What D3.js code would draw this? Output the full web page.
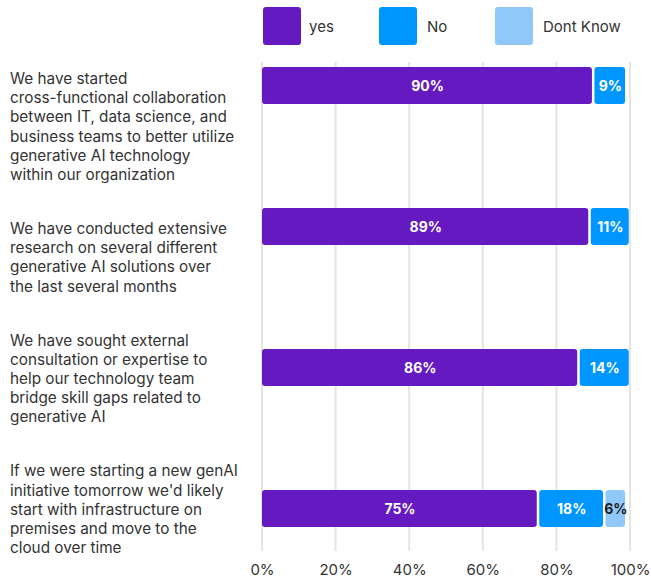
<!DOCTYPE html>
<html>
<head>
<meta charset="utf-8">
<script src="https://cdn.jsdelivr.net/npm/d3@7/dist/d3.min.js"></script>
<style>
  html, body { margin: 0; padding: 0; background: #ffffff; }
  svg { display: block; }
  text { font-family: Inter, "Noto Sans", "DejaVu Sans", sans-serif; }
</style>
</head>
<body>
<svg id="chart" width="651" height="580"></svg>
<script>
// Survey statements, one line per entry as they wrap beside the bars
const categories = [
  ["We have started", "cross-functional collaboration", "between IT, data science, and",
   "business teams to better utilize", "generative AI technology", "within our organization"],
  ["We have conducted extensive", "research on several different",
   "generative AI solutions over", "the last several months"],
  ["We have sought external", "consultation or expertise to", "help our technology team",
   "bridge skill gaps related to", "generative AI"],
  ["If we were starting a new genAI", "initiative tomorrow we'd likely",
   "start with infrastructure on", "premises and move to the", "cloud over time"]
];

const seriesNames = ["yes", "No", "Dont Know"];
const yesValues = [90, 89, 86, 75];
const noValues = [9, 11, 14, 18];
const dontKnowValues = [0, 0, 0, 6];
const tickValues = [0, 20, 40, 60, 80, 100];

const colors = ["#6519C1", "#0096FF", "#90C9F9"];
const labelColors = ["#ffffff", "#ffffff", "#1a1a1a"];

const svg = d3.select("#chart");

const rowKeys = categories.map((c, i) => i);
const table = rowKeys.map(i => ({
  row: i,
  values: [yesValues[i], noValues[i], dontKnowValues[i]]
}));

// Horizontal percentage scale and row bands
const x = d3.scaleLinear().domain([0, 100]).range([262, 630]);
const y = d3.scaleBand().domain(rowKeys).range([67, 527]).paddingInner(0.738).paddingOuter(0);

// Vertical gridlines
svg.append("g")
  .selectAll("line")
  .data(tickValues)
  .join("line")
  .attr("x1", d => x(d)).attr("x2", d => x(d))
  .attr("y1", 62).attr("y2", 551)
  .attr("stroke", "#e4e4e4")
  .attr("stroke-width", 2);

// Bottom axis labels
const axis = d3.axisBottom(x).tickValues(tickValues).tickFormat(d => d + "%").tickSize(0).tickPadding(0);
const axisG = svg.append("g").attr("transform", "translate(0,561)").call(axis);
axisG.select(".domain").remove();
axisG.selectAll("text")
  .attr("dy", null)
  .attr("y", 14)
  .attr("font-size", 15)
  .attr("fill", "#333333")
  .style("font-family", "Inter, 'Noto Sans', sans-serif");

// Stacked segments
const stack = d3.stack().keys([0, 1, 2]).value((d, k) => d.values[k]);
const layers = stack(table);
const gap = 2.5;

const segG = svg.append("g");
layers.forEach((layer, k) => {
  const g = segG.append("g");
  const segs = layer.filter(s => s[1] - s[0] > 0);
  g.selectAll("rect")
    .data(segs)
    .join("rect")
    .attr("x", s => x(s[0]) + (s[0] > 0 ? gap / 2 : 0))
    .attr("y", s => y(s.data.row))
    .attr("width", s => x(s[1]) - x(s[0]) - (s[0] > 0 ? gap : gap / 2))
    .attr("height", y.bandwidth())
    .attr("rx", 3)
    .attr("fill", colors[k]);
  g.selectAll("text")
    .data(segs)
    .join("text")
    .attr("x", s => (x(s[0]) + x(s[1])) / 2 + (s[0] > 0 ? gap / 4 : 0))
    .attr("y", s => y(s.data.row) + y.bandwidth() / 2)
    .attr("dy", "0.36em")
    .attr("text-anchor", "middle")
    .attr("font-size", 14)
    .attr("font-weight", 700)
    .attr("fill", labelColors[k])
    .text(s => (s[1] - s[0]) + "%");
});

// Category labels: centred on their bar where room allows, otherwise pushed
// below the previous block
const lineH = 19.2, capH = 11, blockGap = 54, minFirstBaseline = 84;
let prevLast = -Infinity;
const labG = svg.append("g");
categories.forEach((lines, i) => {
  const c = y(i) + y.bandwidth() / 2;
  const span = (lines.length - 1) * lineH;
  let first = c - (span - capH) / 2;
  first = Math.max(first, minFirstBaseline, prevLast + blockGap);
  prevLast = first + span;
  const t = labG.append("text")
    .attr("x", 10)
    .attr("y", first)
    .attr("font-size", 15.3)
    .attr("fill", "#333333");
  lines.forEach((ln, j) => {
    t.append("tspan").attr("x", 10).attr("y", first + j * lineH).text(ln);
  });
});

// Legend
const lx = d3.scalePoint().domain(seriesNames).range([263, 495]);
const leg = svg.append("g").selectAll("g")
  .data(seriesNames)
  .join("g")
  .attr("transform", d => `translate(${lx(d)},7)`);
leg.append("rect")
  .attr("width", 38).attr("height", 38).attr("rx", 3)
  .attr("fill", (d, i) => colors[i]);
leg.append("text")
  .attr("x", (d, i) => i === 0 ? 46 : 48)
  .attr("y", 20)
  .attr("dy", "0.36em")
  .attr("font-size", 15)
  .attr("fill", "#333333")
  .text(d => d);
</script>
</body>
</html>
